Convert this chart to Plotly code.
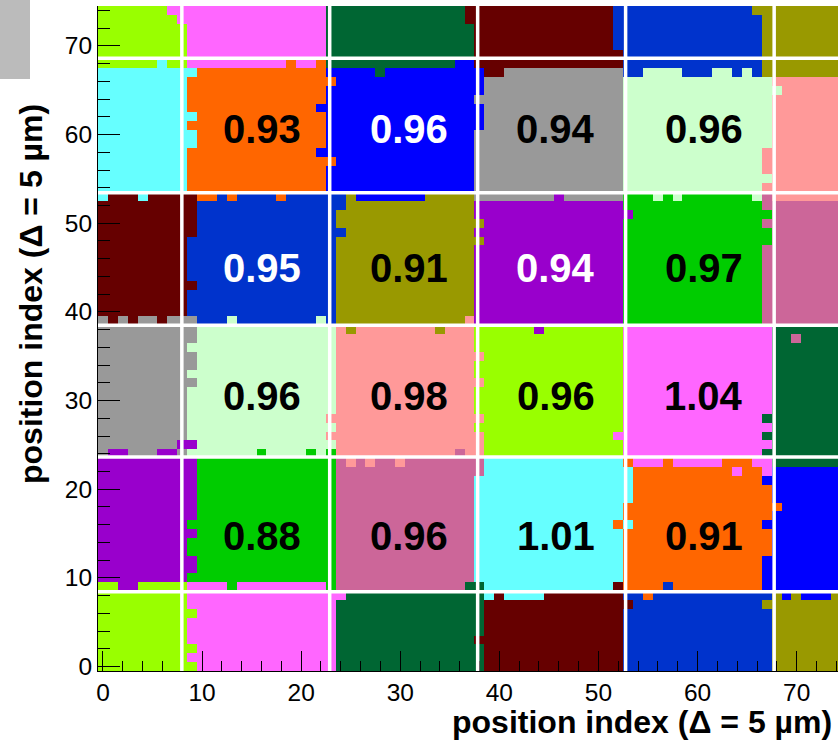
import numpy as np
import plotly.graph_objects as go

# ---------------- data ----------------
PALETTE = {
    "LI": "#99ff00", "MA": "#ff66ff", "DG": "#006633", "DR": "#660000",
    "RB": "#0033cc", "OL": "#999900", "CY": "#66ffff", "OR": "#ff6600",
    "BL": "#0000ff", "GR": "#999999", "LG": "#ccffcc", "SA": "#ff9999",
    "PU": "#9900cc", "GN": "#00cc00", "MV": "#cc6699",
}
KEYS = list(PALETTE.keys())

# pixel assignment blocks, bottom row first, left column first
BLOCK_ROWS = [
    ["LI", "MA", "DG", "DR", "RB", "OL"],
    ["PU", "GN", "MV", "CY", "OR", "BL"],
    ["GR", "LG", "SA", "LI", "MA", "DG"],
    ["DR", "RB", "OL", "PU", "GN", "MV"],
    ["CY", "OR", "BL", "GR", "LG", "SA"],
    ["LI", "MA", "DG", "DR", "RB", "OL"],
]
DEFAULT_COL_STARTS = [9, 23, 38, 53, 68]
ROW_STARTS_BY_COL = [
    [10, 24, 40, 54, 68],
    [10, 24, 39, 54, 68],
    [9, 24, 39, 54, 68],
    [9, 24, 39, 53, 68],
    [9, 23, 39, 54, 68],
    [9, 23, 39, 53, 67],
]
COL_STARTS_BY_ROW = [
    [9, 24, 39, 53, 68],
    [10, 24, 38, 53, 68],
    [9, 24, 38, 53, 68],
    [9, 24, 38, 53, 67],
    [9, 23, 38, 53, 68],
    [9, 23, 38, 53, 67],
]
# ragged border cells: (x0, x1, y0, y1, colour)
BORDER_CELLS = [
    (7, 7, 74, 74, "MA"), (8, 8, 73, 74, "MA"), (6, 6, 68, 68, "CY"),
    (19, 19, 68, 68, "OR"), (22, 22, 68, 68, "OR"),
    (23, 23, 66, 66, "OR"), (23, 23, 57, 57, "OR"),
    (22, 22, 63, 63, "BL"), (22, 22, 58, 58, "BL"),
    (9, 9, 67, 67, "CY"), (9, 9, 62, 62, "CY"), (9, 9, 59, 60, "CY"),
    (10, 11, 53, 53, "OR"), (13, 13, 53, 53, "OR"), (18, 18, 53, 53, "OR"),
    (0, 0, 53, 53, "CY"), (4, 4, 53, 53, "CY"),
    (9, 9, 49, 53, "DR"), (9, 9, 43, 43, "DR"),
    (1, 1, 39, 39, "DR"), (3, 3, 39, 39, "DR"), (6, 6, 39, 39, "DR"),
    (13, 13, 39, 39, "LG"), (22, 22, 39, 39, "LG"), (9, 9, 39, 39, "GR"),
    (24, 24, 52, 53, "RB"), (24, 24, 49, 49, "RB"), (9, 9, 38, 38, "GR"),
    (28, 28, 67, 67, "DG"), (36, 37, 68, 68, "BL"), (37, 37, 73, 74, "DR"),
    (39, 40, 67, 67, "DR"), (38, 38, 65, 67, "BL"), (38, 38, 61, 63, "BL"),
    (26, 32, 53, 53, "BL"), (46, 46, 53, 53, "PU"),
    (38, 38, 50, 50, "OL"), (38, 38, 48, 48, "OL"),
    (25, 25, 38, 38, "OL"), (34, 34, 38, 38, "OL"), (37, 37, 39, 39, "SA"),
    (44, 44, 38, 38, "PU"),
    (52, 52, 70, 74, "RB"), (66, 66, 74, 74, "OL"), (67, 67, 67, 67, "OL"),
    (53, 54, 67, 67, "RB"), (59, 61, 67, 67, "RB"), (64, 64, 67, 67, "RB"),
    (66, 66, 67, 67, "RB"),
    (67, 67, 56, 58, "SA"), (67, 67, 54, 54, "SA"), (68, 68, 65, 65, "LG"),
    (56, 56, 53, 53, "LG"), (58, 58, 53, 53, "LG"), (66, 66, 53, 53, "LG"),
    (53, 53, 51, 51, "PU"), (67, 67, 51, 51, "GN"), (67, 67, 48, 49, "GN"),
    (9, 9, 37, 37, "GR"), (9, 9, 34, 35, "GR"), (9, 9, 32, 32, "GR"),
    (8, 9, 25, 25, "PU"), (1, 2, 24, 24, "PU"), (6, 7, 24, 24, "PU"),
    (16, 16, 24, 24, "GN"), (21, 21, 24, 24, "GN"), (23, 23, 24, 24, "GN"),
    (23, 23, 28, 28, "SA"), (23, 23, 26, 26, "SA"),
    (9, 9, 16, 16, "GN"), (9, 9, 13, 14, "GN"), (9, 9, 10, 10, "GN"),
    (23, 23, 17, 22, "GN"), (23, 23, 13, 14, "GN"),
    (2, 3, 9, 9, "PU"), (13, 13, 9, 9, "GN"),
    (9, 9, 6, 6, "LI"), (9, 9, 2, 2, "LI"), (9, 9, 0, 0, "LI"),
    (24, 24, 8, 8, "MA"),
    (36, 36, 24, 24, "MV"), (25, 25, 23, 23, "SA"), (27, 27, 23, 23, "SA"),
    (30, 30, 23, 23, "SA"),
    (38, 38, 35, 35, "SA"), (38, 38, 32, 32, "SA"), (38, 38, 28, 28, "SA"),
    (38, 38, 24, 26, "SA"), (38, 38, 22, 23, "MV"),
    (37, 38, 9, 9, "DG"), (39, 39, 8, 8, "CY"), (41, 44, 8, 8, "CY"),
    (38, 38, 3, 3, "DR"),
    (70, 70, 37, 37, "MV"), (52, 52, 26, 26, "MA"),
    (67, 67, 28, 28, "DG"), (67, 67, 26, 26, "DG"), (67, 67, 24, 24, "DG"),
    (53, 53, 23, 23, "OR"), (57, 57, 23, 23, "OR"), (63, 65, 23, 23, "OR"),
    (64, 64, 22, 22, "MA"), (67, 67, 22, 22, "MA"),
    (67, 67, 21, 21, "BL"), (67, 67, 16, 16, "BL"), (67, 67, 9, 12, "BL"),
    (68, 68, 18, 18, "OR"),
    (53, 53, 19, 22, "CY"), (53, 53, 16, 16, "CY"),
    (52, 52, 16, 16, "OR"), (52, 52, 9, 9, "DR"), (57, 57, 9, 9, "RB"),
    (55, 55, 8, 8, "OR"), (53, 53, 7, 7, "DR"), (67, 67, 7, 7, "OL"),
    (69, 69, 8, 8, "BL"), (71, 73, 8, 8, "BL"),
]
N_POS = 75
PIXEL_LINES_X = [7.96, 22.88, 37.81, 52.74, 67.73]
PIXEL_LINES_Y = [8.45, 23.63, 38.5, 53.43, 68.6]

VALUE_X = [16.0, 30.9, 45.7, 60.6]
VALUE_Y = [60.6, 45.0, 30.5, 14.7]
VALUES = [
    ["0.93", "0.96", "0.94", "0.96"],
    ["0.95", "0.91", "0.94", "0.97"],
    ["0.96", "0.98", "0.96", "1.04"],
    ["0.88", "0.96", "1.01", "0.91"],
]
VALUE_COLORS = [
    ["black", "white", "black", "black"],
    ["white", "black", "white", "black"],
    ["black", "black", "black", "black"],
    ["black", "black", "black", "black"],
]
AXIS_TITLE = "position index (Δ = 5 µm)"


def block_index(v, starts):
    k = 0
    for s in starts:
        if v >= s:
            k += 1
    return k


z = np.zeros((N_POS, N_POS), dtype=int)
for yy in range(N_POS):
    for xx in range(N_POS):
        c0 = block_index(xx, DEFAULT_COL_STARTS)
        r = block_index(yy, ROW_STARTS_BY_COL[c0])
        c = block_index(xx, COL_STARTS_BY_ROW[r])
        z[yy, xx] = KEYS.index(BLOCK_ROWS[r][c])
for x0, x1, y0, y1, key in BORDER_CELLS:
    z[y0:y1 + 1, x0:x1 + 1] = KEYS.index(key)

n = len(KEYS)
colorscale = []
for k, key in enumerate(KEYS):
    colorscale.append([k / n, PALETTE[key]])
    colorscale.append([(k + 1) / n, PALETTE[key]])

fig = go.Figure(go.Heatmap(
    z=z, x=list(range(N_POS)), y=list(range(N_POS)),
    colorscale=colorscale, zmin=-0.5, zmax=n - 0.5,
    showscale=False, hoverinfo="skip",
))

W, H = 838, 747
ML, MR, MT, MB = 98, 0, 6, 76
PW, PH = W - ML - MR, H - MT - MB

shapes = []
for vx in PIXEL_LINES_X:
    shapes.append(dict(type="line", xref="x", yref="y", x0=vx, x1=vx, y0=-0.5, y1=74.5,
                       line=dict(color="white", width=3.5), layer="above"))
for vy in PIXEL_LINES_Y:
    shapes.append(dict(type="line", xref="x", yref="y", x0=-0.5, x1=75, y0=vy, y1=vy,
                       line=dict(color="white", width=3.5), layer="above"))
# grey corner box
shapes.append(dict(type="rect", xref="paper", yref="paper",
                   x0=(0 - ML) / PW, x1=(30 - ML) / PW,
                   y0=(H - MB - 79) / PH, y1=(H - MB + 10) / PH,
                   fillcolor="#bbbbbb", line=dict(width=0), layer="above"))

annotations = []
for i, ry in enumerate(VALUE_Y):
    for j, rx in enumerate(VALUE_X):
        annotations.append(dict(
            x=rx, y=ry, xref="x", yref="y", text=VALUES[i][j], showarrow=False,
            xanchor="center", yanchor="middle",
            font=dict(family="Liberation Sans", size=40, color=VALUE_COLORS[i][j], weight="bold"),
        ))
annotations.append(dict(
    x=(834 - ML) / PW, y=(H - MB - 722) / PH, xref="paper", yref="paper",
    text=AXIS_TITLE, showarrow=False, xanchor="right", yanchor="middle",
    font=dict(family="Liberation Sans", size=32, color="black", weight="bold"),
))
annotations.append(dict(
    x=(31 - ML) / PW, y=(H - MB - 102) / PH, xref="paper", yref="paper",
    text=AXIS_TITLE, showarrow=False, xanchor="center", yanchor="top", textangle=-90,
    font=dict(family="Liberation Sans", size=32, color="black", weight="bold"),
))

tickfont = dict(family="Liberation Sans", size=24.5, color="black")
fig.update_layout(
    width=W, height=H, margin=dict(l=ML, r=MR, t=MT, b=MB),
    paper_bgcolor="white", plot_bgcolor="white",
    shapes=shapes, annotations=annotations, showlegend=False,
    xaxis=dict(range=[-0.5, -0.5 + PW / 9.91], tick0=0, dtick=10, ticks="inside",
               ticklen=20, tickwidth=1, tickcolor="black", showgrid=False, zeroline=False,
               showline=True, linecolor="black", linewidth=1, tickfont=tickfont,
               minor=dict(tick0=0, dtick=2, ticks="inside", ticklen=10, tickcolor="black",
                          tickwidth=1, showgrid=False)),
    yaxis=dict(range=[-0.5, 74.5], tick0=0, dtick=10, ticks="inside",
               ticklen=22, tickwidth=1, tickcolor="black", showgrid=False, zeroline=False,
               showline=True, linecolor="black", linewidth=1, tickfont=tickfont,
               minor=dict(tick0=0, dtick=2, ticks="inside", ticklen=12, tickcolor="black",
                          tickwidth=1, showgrid=False)),
)

fig.write_html("out.html")
